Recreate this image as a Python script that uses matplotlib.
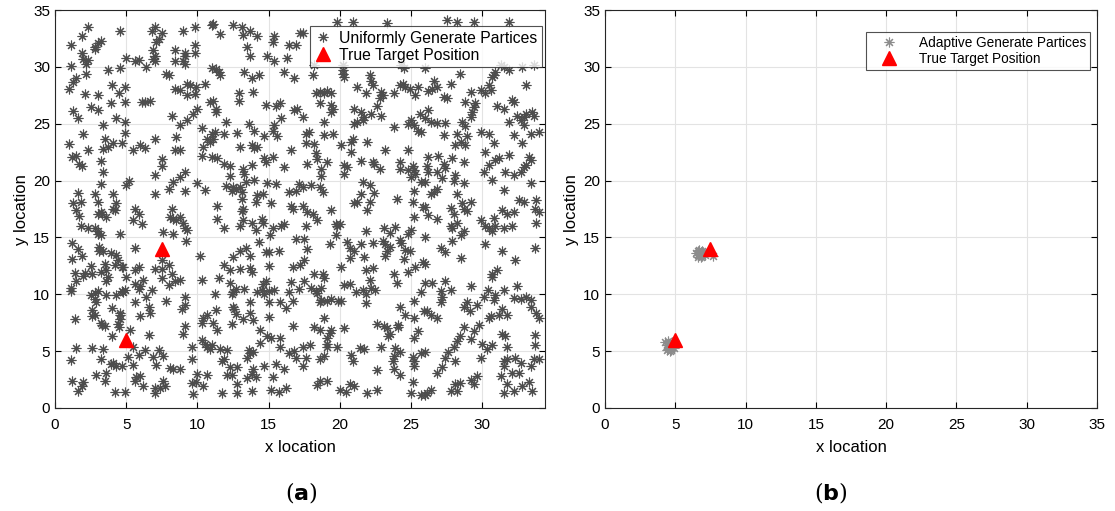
import matplotlib
matplotlib.use('Agg')
import matplotlib.pyplot as plt
import numpy as np

# (a) uniformly generated particles, read off the picture region by region
uniform_x = [
    2.3, 1.9, 4.6, 1.1, 2.8, 3.0, 3.2, 2.8, 1.9, 2.0, 2.3, 2.2, 5.0, 5.6, 5.9, 6.8, 7.0, 7.5, 7.3, 7.1,
    6.9, 7.0, 6.9, 7.0, 8.4, 8.4, 1.1, 3.7, 4.6, 6.4, 7.8, 8.0, 2.2, 1.5, 1.3, 1.0, 2.1, 3.0, 4.0, 4.9,
    4.5, 4.9, 3.9, 2.5, 3.0, 1.3, 1.6, 6.3, 6.7, 6.1, 8.2, 8.4, 4.3, 4.9, 3.4, 2.0, 4.9, 3.5, 7.0, 8.5,
    9.0, 9.8, 11.0, 11.1, 11.6, 12.5, 13.1, 13.2, 13.7, 14.2, 15.4, 15.3, 16.4, 16.9, 17.2, 9.8, 9.1, 9.1, 9.8, 9.0,
    9.1, 13.5, 13.7, 14.9, 15.4, 16.3, 11.0, 11.3, 11.5, 11.6, 13.3, 13.8, 14.3, 16.1, 16.8, 9.3, 9.5, 9.9, 10.5, 8.8,
    9.3, 9.8, 10.9, 11.1, 11.3, 11.3, 12.9, 13.9, 12.9, 9.7, 10.0, 9.3, 8.8, 12.0, 13.6, 14.0, 14.8, 15.5, 15.8, 15.9,
    15.4, 15.3, 16.8, 17.0, 10.3, 11.0, 11.2, 11.9, 12.8, 14.7, 15.6, 10.7, 11.1,
    19.8, 20.9, 23.3, 17.4, 18.2, 18.1, 20.2, 20.2, 20.3, 20.2, 22.1, 22.2, 22.3, 21.8, 21.2, 22.9, 23.0, 22.8, 23.8, 24.2,
    24.4, 24.6, 24.9, 25.5, 25.3, 24.3, 24.5, 18.3, 18.6, 18.9, 19.1, 19.4, 18.6, 19.4, 19.5, 19.4, 21.0, 21.5, 21.7, 22.2,
    22.6, 22.9, 18.9, 21.0, 21.2, 21.6, 23.8, 24.8, 25.0, 25.2, 25.5, 25.7, 25.6, 17.6, 17.8, 18.9, 19.5, 20.9, 17.4,
    27.5, 28.2, 29.4, 31.9, 31.3, 31.5, 32.8, 33.6, 26.0, 30.9, 30.8, 30.7, 30.5, 30.6, 31.9, 28.4, 27.8, 26.6, 26.8, 26.5,
    26.2, 29.2, 29.9, 30.2, 33.1, 27.3, 27.5, 28.8, 29.5, 29.4, 29.3, 29.2, 31.0, 31.5, 32.1, 32.2, 31.9, 32.4, 32.7, 32.9,
    33.1, 33.5, 33.6, 32.9, 34.0, 26.0, 26.4, 26.8, 27.4, 28.6, 28.8, 27.3, 28.2, 28.9, 29.9, 30.5, 32.2, 33.4, 26.2,
    1.0, 2.3, 3.4, 4.1, 4.7, 3.7, 1.2, 1.5, 1.7, 1.9, 3.2, 3.4, 5.5, 6.0, 6.3, 8.4, 7.5, 7.5, 7.0, 3.2,
    5.0, 5.2, 8.3, 8.0, 7.0, 1.6, 2.8, 4.1, 1.3, 1.8, 1.5, 3.0, 3.2, 3.3, 3.0, 3.6, 4.1, 4.3, 4.2, 1.7,
    5.6, 5.9, 5.5, 6.1, 8.2, 8.1, 8.3, 8.5, 1.8, 2.3, 2.8, 3.0, 3.0, 3.2, 4.6, 7.6, 8.3, 1.2, 1.6, 1.9,
    1.2, 3.1, 3.1, 3.4, 3.9, 4.3, 4.4, 5.6, 7.5, 8.0, 7.0, 2.5, 3.5, 4.2, 4.7, 4.8, 5.9, 5.6, 1.4, 2.1,
    2.6, 3.2, 3.6, 7.5, 8.2,
    8.8, 10.4, 10.9, 13.0, 13.8, 14.0, 14.2, 16.6, 10.3, 11.0, 11.4, 11.9, 12.3, 13.2, 13.3, 13.8, 14.7, 14.8, 15.3, 16.1,
    9.1, 8.8, 10.0, 10.5, 9.1, 12.3, 12.0, 12.5, 12.7, 13.0, 12.4, 13.1, 13.4, 14.0, 14.9, 15.5, 17.1, 16.4, 16.9, 14.2,
    14.6, 14.1, 13.1, 15.2, 11.4, 13.2, 13.1, 16.6, 16.7, 11.4, 8.8, 9.0, 9.1, 9.3, 11.9, 13.0, 13.2, 13.8, 14.5, 14.6,
    14.1, 15.3, 15.9, 16.1, 15.1, 16.9, 9.2, 10.2, 12.5, 13.0, 13.4, 13.7, 14.3, 14.8, 15.0, 15.7, 11.9, 12.3, 13.0, 13.7,
    13.8, 15.0, 16.7, 17.2,
    17.6, 18.2, 18.3, 18.4, 17.7, 18.7, 18.7, 19.1, 20.1, 20.8, 20.8, 21.9, 23.2, 24.8, 20.3, 20.5, 20.3, 21.5, 22.3, 22.4,
    22.8, 24.2, 24.2, 24.8, 25.1, 25.2, 25.3, 25.0, 17.4, 18.0, 18.6, 18.8, 21.6, 22.1, 22.4, 21.5, 21.0, 21.2, 22.1, 21.9,
    24.0, 25.2, 25.1, 25.7, 17.4, 17.7, 18.1, 18.4, 19.4, 19.7, 19.8, 20.0, 19.7, 17.6, 21.8, 23.1, 23.9, 23.5, 25.0, 24.8,
    25.2, 25.8, 17.5, 17.7, 19.3, 20.5, 20.7, 21.0, 21.5, 21.7, 20.7, 22.3, 23.0, 23.2, 23.5, 23.3, 23.2, 24.2, 24.3, 24.6,
    24.9, 24.5, 25.8, 17.5, 20.1, 21.8, 22.3, 18.2, 18.8, 24.8, 25.3, 23.8,
    28.1, 28.5, 28.8, 30.8, 32.8, 26.2, 26.9, 27.9, 28.7, 30.2, 30.9, 31.2, 31.9, 30.5, 30.1, 26.1, 26.2, 27.3, 27.4, 26.8,
    27.2, 28.1, 28.0, 28.7, 33.3, 33.4, 33.1, 32.9, 32.7, 32.2, 31.6, 30.7, 33.4, 31.5, 26.0, 26.4, 26.6, 26.8, 28.2, 32.6,
    32.9, 33.8, 26.0, 26.2, 26.8, 27.8, 28.0, 28.6, 28.7, 29.2, 28.9, 28.2, 27.8, 27.9, 28.7, 28.5, 29.9, 30.2, 30.5, 30.7,
    30.8, 30.9, 31.5, 32.1, 31.4, 31.7, 32.2, 33.7, 34.0, 33.8, 26.0, 27.9, 27.1, 27.4, 28.5, 30.2, 31.4, 32.3, 33.7, 31.0,
    30.7, 26.0,
    1.1, 1.5, 2.0, 3.6, 3.7, 5.0, 5.6, 6.0, 6.2, 7.5, 8.0, 8.4, 1.1, 2.5, 2.8, 3.0, 2.8, 2.9, 3.6, 4.3,
    4.7, 4.9, 4.8, 5.6, 5.9, 6.4, 6.8, 6.6, 6.7, 7.8, 2.6, 2.8, 2.6, 1.4, 4.0, 4.6, 4.6, 6.0, 3.2, 3.3,
    3.5, 4.4, 4.6, 4.5, 5.3, 4.0, 6.6, 1.5, 2.6, 3.4, 5.5, 1.1, 3.2, 3.9, 4.1, 4.3, 4.7, 5.1, 5.5, 5.9,
    6.3, 6.9, 7.3, 7.6, 7.1, 8.1, 8.3, 2.9, 3.6, 3.5, 1.2, 2.0, 1.9, 1.6, 5.7, 6.0, 5.6, 6.2, 7.0, 7.0,
    7.4, 7.6, 7.7, 4.2, 4.9,
    8.8, 10.3, 11.5, 12.3, 12.5, 12.4, 12.7, 13.3, 13.7, 14.2, 14.5, 14.6, 14.8, 14.7, 15.0, 15.0, 15.4, 16.6, 17.1, 16.4,
    16.7, 15.8, 16.2, 9.1, 9.1, 8.9, 11.2, 11.3, 12.5, 12.6, 12.7, 13.2, 13.7, 13.9, 15.0, 10.4, 10.3, 10.7, 11.1, 11.4,
    12.4, 9.1, 9.0, 16.7, 14.4, 14.9, 15.2, 15.8, 15.8, 14.4, 10.3, 10.5, 10.7, 11.0, 10.9, 11.6, 12.1, 9.6, 13.6, 13.7,
    13.9, 13.5, 9.6, 11.7, 11.9, 12.3, 12.8, 13.9, 13.8, 12.4, 12.1, 13.5, 14.1, 14.7, 15.5, 16.1, 16.4, 16.8, 16.9, 8.8,
    10.0, 10.7, 9.6, 9.9, 10.4, 9.7, 12.8, 12.8, 11.7, 13.8, 15.3, 15.2, 15.7, 16.2,
    17.5, 18.0, 18.3, 18.4, 18.7, 18.9, 20.3, 20.7, 21.1, 21.6, 21.8, 22.2, 22.5, 22.1, 24.0, 21.8, 18.6, 18.7, 19.1, 19.4,
    19.9, 20.1, 24.2, 24.6, 25.2, 25.2, 25.7, 25.9, 18.9, 18.2, 18.6, 19.4, 19.3, 19.1, 19.1, 20.3, 22.6, 23.1, 23.3, 23.5,
    23.4, 24.1, 24.1, 25.5, 25.2, 17.4, 17.9, 19.1, 19.8, 21.4, 21.7, 22.9, 23.9, 24.2, 23.8, 23.7, 23.8, 24.2, 25.1, 25.2,
    25.2, 25.7, 17.6, 17.4, 18.6, 18.9, 20.8, 20.9, 22.6, 18.6, 19.1, 18.4, 20.0, 20.4, 20.7, 21.0, 21.9, 22.6, 25.1, 25.0,
    25.7,
    26.0, 26.5, 27.4, 27.1, 27.8, 27.2, 27.1, 29.2, 30.4, 30.7, 32.4, 31.5, 30.9, 30.8, 30.1, 28.9, 28.7, 29.1, 29.6, 26.1,
    26.4, 26.8, 32.2, 32.7, 33.1, 33.4, 33.4, 33.8, 34.0, 31.4, 31.7, 31.2, 30.5, 30.6, 29.8, 29.4, 29.2, 28.7, 28.4, 28.2,
    28.0, 27.6, 27.4, 27.2, 26.8, 28.1, 30.0, 30.3, 30.7, 29.9, 31.7, 31.4, 31.6, 33.7, 33.7, 26.0, 31.5, 31.7, 31.5, 32.3,
    32.7, 32.1, 32.6, 31.3, 33.4, 33.6, 34.0, 33.3, 33.5, 31.7, 32.2, 32.8, 31.5, 29.2, 29.4, 29.6, 28.4, 28.1, 28.2, 27.8,
    26.4, 26.1, 26.0,
]
uniform_y = [
    33.5, 32.7, 33.2, 31.9, 31.8, 32.1, 32.3, 31.6, 31.2, 30.7, 30.6, 30.3, 30.8, 30.5, 30.6, 33.2, 33.5, 33.0, 32.5, 32.2,
    31.5, 31.0, 30.7, 30.5, 31.5, 30.5, 30.1, 29.7, 29.9, 30.0, 29.4, 29.3, 29.4, 29.0, 28.7, 28.1, 27.6, 27.5, 28.4, 28.2,
    27.7, 26.9, 26.8, 26.5, 26.2, 26.1, 25.5, 26.9, 27.0, 26.9, 25.7, 28.1, 25.5, 25.2, 24.9, 24.1, 24.2, 23.7, 23.7, 23.8,
    33.2, 33.5, 33.7, 33.8, 32.9, 33.7, 33.5, 32.8, 33.2, 32.7, 32.7, 32.2, 31.9, 31.9, 33.0, 31.9, 31.2, 31.0, 31.2, 30.5,
    30.3, 31.8, 31.0, 31.0, 30.5, 30.8, 29.9, 29.8, 29.6, 29.3, 29.6, 29.0, 29.3, 29.6, 29.0, 28.5, 28.4, 28.2, 28.5, 28.0,
    27.5, 27.6, 26.9, 27.0, 26.3, 26.0, 27.7, 27.8, 27.0, 25.9, 26.3, 25.3, 24.9, 25.2, 25.0, 24.4, 26.7, 26.6, 26.8, 25.5,
    24.9, 24.4, 26.2, 26.3, 24.6, 24.1, 24.3, 24.1, 24.2, 23.9, 23.9, 23.7, 23.7,
    34.0, 34.0, 33.9, 33.0, 30.2, 29.3, 29.7, 29.4, 29.1, 30.2, 29.3, 28.8, 28.4, 27.7, 28.2, 27.8, 27.5, 27.3, 27.7, 28.4,
    28.5, 28.2, 28.1, 28.2, 27.5, 30.2, 29.9, 27.7, 27.8, 27.7, 27.9, 27.7, 26.8, 26.7, 26.3, 26.0, 26.3, 26.0, 25.6, 25.9,
    26.6, 25.7, 25.2, 25.0, 25.2, 25.3, 24.7, 25.0, 25.3, 24.9, 24.4, 24.3, 25.9, 24.1, 24.3, 24.0, 24.1, 23.7, 25.6,
    34.1, 34.0, 34.0, 34.0, 30.2, 30.0, 30.0, 30.2, 29.9, 29.6, 29.3, 29.1, 28.4, 28.0, 29.7, 29.4, 28.5, 28.8, 28.2, 28.1,
    27.9, 27.8, 28.0, 27.7, 28.4, 27.4, 27.3, 26.9, 26.8, 26.5, 26.0, 25.6, 26.6, 26.3, 27.1, 26.9, 25.2, 25.7, 25.3, 25.6,
    25.9, 26.0, 25.7, 24.9, 24.3, 25.5, 25.2, 25.1, 25.1, 25.2, 24.8, 24.0, 24.1, 23.9, 24.3, 24.1, 24.0, 24.1, 26.2,
    23.2, 22.7, 22.8, 23.3, 23.3, 23.0, 22.1, 22.2, 21.5, 21.3, 21.7, 20.8, 22.7, 23.1, 22.9, 22.7, 21.9, 21.3, 20.5, 19.7,
    19.6, 20.0, 19.9, 19.3, 18.8, 18.9, 18.8, 18.8, 18.0, 18.1, 17.4, 18.1, 17.2, 17.1, 17.1, 16.8, 17.5, 18.0, 17.4, 16.9,
    17.5, 17.1, 16.5, 16.2, 17.5, 16.8, 16.6, 16.5, 16.0, 15.8, 15.8, 15.6, 15.3, 15.2, 15.3, 15.5, 15.3, 14.5, 14.0, 13.4,
    13.1, 14.2, 13.8, 13.8, 13.6, 13.5, 13.0, 14.1, 13.0, 12.6, 12.2, 12.5, 12.7, 12.6, 12.4, 12.4, 12.4, 12.1, 11.9, 11.9,
    11.8, 12.0, 12.1, 12.2, 11.8,
    22.7, 23.0, 23.4, 23.0, 23.1, 22.9, 23.0, 22.7, 22.2, 22.1, 22.0, 21.5, 21.3, 21.0, 20.6, 21.4, 22.0, 21.6, 22.1, 21.2,
    20.8, 20.3, 19.8, 19.2, 19.1, 20.4, 19.5, 19.4, 19.3, 19.4, 19.1, 19.0, 19.9, 20.1, 19.8, 19.7, 19.7, 19.0, 19.1, 18.7,
    18.8, 18.1, 18.4, 18.0, 17.8, 17.5, 17.3, 17.8, 17.5, 16.6, 16.8, 16.3, 15.8, 15.7, 15.8, 16.0, 16.5, 16.3, 16.6, 16.3,
    15.7, 15.8, 16.0, 16.2, 15.2, 14.9, 14.7, 13.4, 13.3, 13.8, 14.1, 13.4, 14.6, 13.7, 13.7, 13.8, 12.6, 12.1, 12.2, 12.3,
    12.0, 12.5, 12.4, 12.6,
    23.3, 23.2, 22.4, 21.9, 21.5, 21.0, 20.4, 21.6, 23.1, 22.5, 23.4, 23.4, 22.7, 22.7, 21.4, 21.2, 20.6, 21.7, 21.6, 21.5,
    21.0, 21.6, 21.0, 20.9, 21.3, 20.9, 20.6, 20.3, 19.4, 19.6, 19.4, 19.0, 19.9, 19.6, 18.9, 18.8, 18.0, 18.1, 18.1, 17.4,
    18.4, 19.1, 18.1, 19.9, 17.8, 17.2, 17.1, 16.5, 17.4, 16.2, 16.0, 16.2, 15.2, 16.0, 15.6, 15.8, 15.9, 15.4, 15.7, 15.3,
    16.8, 17.7, 14.9, 14.0, 14.4, 14.6, 14.1, 13.8, 14.4, 13.3, 13.2, 14.5, 14.7, 14.4, 14.2, 13.8, 13.4, 14.8, 14.5, 13.9,
    13.8, 13.1, 12.8, 13.0, 12.4, 12.1, 12.3, 11.8, 11.8, 12.0, 12.4, 11.8,
    23.1, 23.4, 23.1, 23.3, 23.3, 22.1, 22.2, 22.0, 21.6, 22.5, 21.8, 22.0, 22.3, 21.4, 20.8, 21.3, 20.8, 21.5, 21.1, 20.8,
    20.2, 20.5, 20.0, 19.8, 22.1, 21.8, 21.4, 21.2, 20.8, 20.5, 20.8, 20.1, 19.8, 19.2, 19.9, 18.8, 19.0, 19.3, 18.8, 18.3,
    18.1, 18.3, 17.7, 17.0, 16.6, 17.6, 17.1, 18.0, 17.5, 18.1, 17.3, 16.3, 16.0, 15.8, 15.6, 15.2, 16.5, 16.0, 15.8, 15.6,
    16.7, 16.0, 15.8, 16.0, 17.4, 17.1, 17.2, 17.5, 17.2, 16.3, 15.0, 14.7, 14.1, 13.7, 13.2, 14.4, 13.8, 13.0, 14.1, 12.1,
    11.8, 12.7,
    10.6, 11.2, 11.6, 11.2, 11.5, 11.5, 10.9, 10.7, 11.3, 11.4, 10.8, 11.2, 10.3, 9.9, 10.1, 10.3, 9.6, 9.3, 9.9, 9.9,
    10.3, 10.4, 10.2, 9.3, 10.5, 9.8, 10.4, 8.9, 8.4, 9.4, 8.6, 8.2, 8.1, 7.8, 8.8, 8.4, 8.2, 8.1, 7.5, 7.3,
    7.2, 7.4, 7.8, 7.1, 6.9, 6.3, 6.4, 5.3, 5.3, 5.2, 5.4, 4.2, 4.3, 3.9, 4.0, 3.7, 3.7, 4.5, 3.8, 4.7,
    5.1, 4.5, 5.1, 4.6, 3.8, 3.5, 3.4, 2.9, 3.1, 2.4, 2.4, 2.3, 1.9, 1.5, 2.7, 2.8, 2.4, 1.9, 1.8, 1.3,
    1.8, 2.4, 1.9, 1.4, 1.4,
    11.3, 11.3, 11.4, 11.0, 10.2, 10.0, 10.5, 10.5, 9.3, 10.2, 10.4, 10.9, 11.2, 10.0, 10.3, 9.3, 10.4, 11.1, 10.5, 10.2,
    9.4, 9.3, 8.8, 9.8, 9.1, 8.7, 10.0, 8.6, 8.9, 8.7, 8.3, 7.8, 8.4, 7.7, 8.0, 7.9, 7.5, 8.2, 7.5, 6.9,
    7.4, 7.2, 6.5, 7.2, 6.9, 6.3, 6.2, 6.2, 5.4, 5.7, 6.0, 5.6, 5.4, 5.5, 5.2, 5.2, 5.1, 5.4, 5.1, 4.8,
    4.9, 4.4, 4.3, 4.1, 4.3, 3.6, 3.6, 3.4, 3.0, 2.9, 2.9, 2.6, 2.7, 3.7, 3.9, 3.4, 4.8, 5.0, 4.4, 3.4,
    3.0, 2.9, 2.2, 2.3, 1.9, 1.2, 2.1, 1.3, 1.3, 1.5, 2.7, 1.6, 1.4, 1.8,
    11.2, 10.6, 10.3, 10.1, 10.6, 11.4, 10.8, 10.9, 10.2, 10.4, 10.0, 10.6, 10.4, 11.3, 11.0, 9.2, 9.3, 9.5, 9.4, 9.6,
    9.4, 9.4, 8.9, 8.2, 9.4, 7.9, 10.2, 8.5, 7.9, 7.1, 6.9, 6.9, 6.6, 6.2, 5.6, 7.0, 7.4, 7.2, 7.0, 6.5,
    6.3, 7.3, 7.1, 6.8, 6.2, 5.4, 5.5, 5.4, 5.4, 5.3, 5.2, 5.4, 5.3, 4.9, 4.6, 4.1, 3.4, 2.9, 4.5, 4.1,
    3.7, 4.8, 4.4, 3.7, 4.3, 4.6, 4.7, 4.1, 3.3, 2.4, 2.4, 2.0, 1.6, 1.4, 2.1, 1.9, 1.3, 1.6, 2.3, 1.3,
    1.1,
    11.0, 11.0, 11.2, 10.3, 10.4, 9.8, 9.3, 10.7, 10.4, 11.5, 10.7, 10.4, 9.9, 9.5, 9.8, 9.3, 8.9, 8.5, 9.1, 8.5,
    8.2, 7.9, 9.7, 9.6, 9.8, 9.5, 8.9, 8.4, 7.9, 8.7, 8.2, 8.2, 7.9, 8.1, 7.3, 6.8, 6.1, 7.1, 6.3, 5.9,
    5.4, 4.9, 4.4, 3.6, 3.1, 4.1, 5.6, 5.2, 5.5, 4.4, 5.4, 6.5, 6.3, 6.4, 5.5, 4.9, 4.1, 4.3, 3.7, 4.4,
    4.0, 3.1, 3.1, 2.8, 3.7, 4.3, 4.3, 2.3, 1.5, 2.1, 1.5, 1.9, 1.3, 2.5, 2.1, 2.8, 2.2, 2.1, 1.5, 1.5,
    1.6, 1.3, 1.1,
]
target_x = [5.0, 7.5]
target_y = [6.0, 14.0]

# (b) adaptive particles, two tight clusters
adaptive_x = [4.3, 4.4, 4.5, 4.6, 4.7, 4.8, 4.5, 4.6, 4.4, 4.9, 4.7, 4.5, 4.8, 4.6,
              6.5, 6.6, 6.7, 6.8, 6.9, 7.0, 6.6, 6.7, 6.9, 7.1, 6.8, 6.6, 7.0, 7.7]
adaptive_y = [5.8, 5.5, 5.2, 5.0, 5.4, 5.6, 5.7, 5.3, 5.1, 5.3, 5.1, 5.9, 5.8, 5.5,
              13.6, 13.8, 13.5, 13.7, 13.4, 13.6, 13.3, 13.9, 13.8, 13.5, 13.3, 13.5, 13.7, 13.4]

plt.rcParams['font.family'] = ['Liberation Sans', 'DejaVu Sans']
asterisk = (8, 2, 0)

fig = plt.figure(figsize=(11.15, 5.11), dpi=100)
ax1 = fig.add_axes([0.0493, 0.2016, 0.4395, 0.7785])
ax2 = fig.add_axes([0.5426, 0.2016, 0.4413, 0.7785])

ax1.plot(uniform_x, uniform_y, linestyle='none', marker=asterisk, markersize=7,
         markeredgewidth=0.8, color='#4d4d4d', label='Uniformly Generate Partices')
ax1.plot(target_x, target_y, linestyle='none', marker='^', markersize=10,
         color='red', label='True Target Position')
ax1.set_xlim(0, 34.4)
ax1.set_ylim(0, 35)

ax2.plot(adaptive_x, adaptive_y, linestyle='none', marker=asterisk, markersize=7,
         markeredgewidth=0.8, color='#8c8c8c', label='Adaptive Generate Partices')
ax2.plot(target_x, target_y, linestyle='none', marker='^', markersize=10,
         color='red', label='True Target Position')
ax2.set_xlim(0, 35)
ax2.set_ylim(0, 35)

# anchor, font size, handle length, handle-text gap
legend_spots = {ax1: ((0.9939, 0.9598), 11.3, 1.0, 0.55),
                ax2: ((0.9858, 0.9447), 9.8, 2.8, 0.8)}

for ax in (ax1, ax2):
    ax.set_xticks(range(0, 35 if ax is ax1 else 36, 5))
    ax.set_yticks(range(0, 36, 5))
    ax.grid(True, color='#e3e3e3', linewidth=0.8)
    ax.set_axisbelow(True)
    ax.tick_params(direction='in', labelsize=11, length=4, top=True, right=True,
                   labeltop=False, labelright=False)
    ax.tick_params(axis='x', pad=7)
    for s in ax.spines.values():
        s.set_linewidth(0.8)
        s.set_color('#262626')
    ax.set_xlabel('x location', fontsize=12, labelpad=6)
    ax.set_ylabel('y location', fontsize=12, labelpad=3)
    anchor, fs, hl, htp = legend_spots[ax]
    leg = ax.legend(loc='upper right', bbox_to_anchor=anchor, fontsize=fs, frameon=True,
                    fancybox=False, edgecolor='#262626', borderaxespad=0.0,
                    handlelength=hl, handletextpad=htp, borderpad=0.3, labelspacing=0.12)
    leg.get_frame().set_linewidth(0.8)

fig.text(0.27, 0.037, r'($\mathbf{a}$)', ha='center', va='center', fontsize=16, family='DejaVu Serif')
fig.text(0.745, 0.037, r'($\mathbf{b}$)', ha='center', va='center', fontsize=16, family='DejaVu Serif')

fig.savefig('out.png', dpi=100)
